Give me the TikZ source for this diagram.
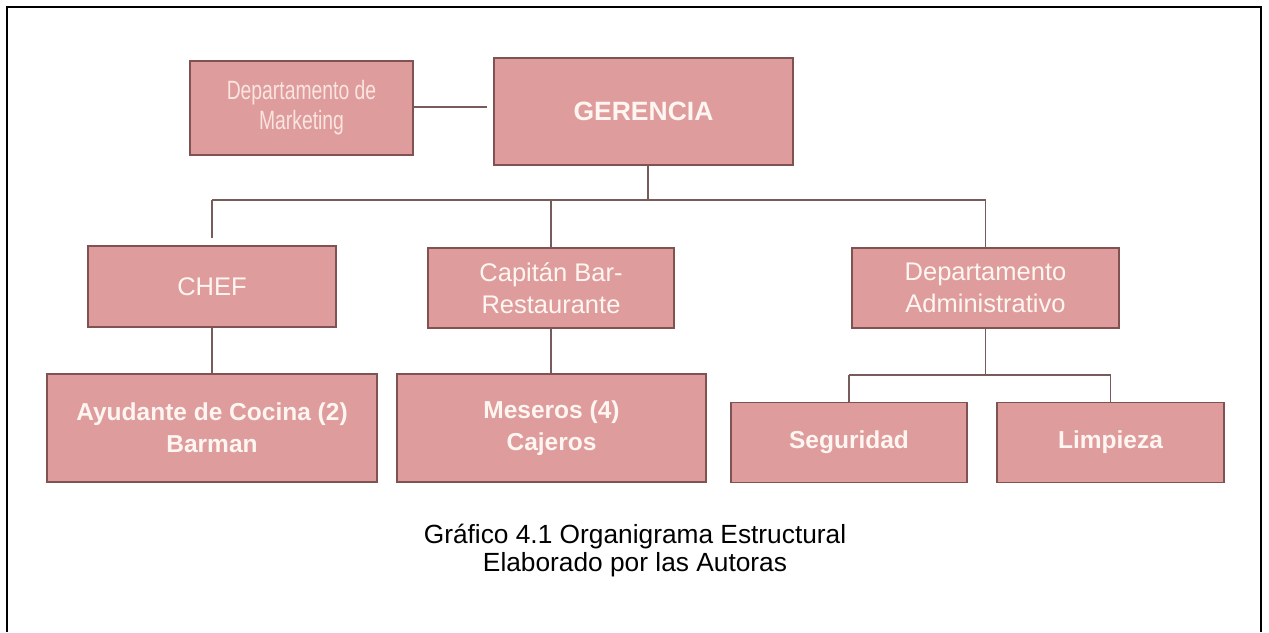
\documentclass[tikz,border=0pt]{standalone}
\usepackage{fontspec}
\usepackage{graphicx}
\setmainfont{Liberation Sans}
\usetikzlibrary{positioning}

\definecolor{boxfill}{RGB}{222,157,156}
\definecolor{boxline}{RGB}{128,82,82}
\definecolor{boxtext}{RGB}{255,246,242}
\definecolor{linkline}{RGB}{120,92,92}

\tikzset{
  orgbox/.style={draw=boxline, line width=1.4pt, fill=boxfill, text=boxtext,
    align=center, inner sep=0pt, font=\fontsize{25.5}{32}\selectfont},
  orgbold/.style={orgbox, font=\fontsize{24.5}{32}\selectfont\bfseries},
  link/.style={draw=linkline, line width=1.4pt}
}

\begin{document}
\begin{tikzpicture}[x=1pt, y=-1pt]
    \useasboundingbox (0,0) rectangle (1269,632);
    \draw[line width=2.6pt] (7,632) -- (7,7) -- (1261,7) -- (1261,632);

    \node[orgbox, minimum width=223pt, minimum height=94pt, text={rgb,255:red,250;green,228;blue,224}] (mkt) at (301.5,108)
        {\fontsize{26.5}{30}\selectfont\scalebox{0.73}[1]{\begin{tabular}{@{}c@{}}Departamento de\\Marketing\end{tabular}}};
    \node[orgbold, minimum width=299pt, minimum height=107pt, font=\fontsize{26.5}{32}\selectfont\bfseries] (ger) at (643.5,111.5) {GERENCIA};
    \node[orgbox, minimum width=248pt, minimum height=81pt] (chef) at (212,286.5) {CHEF};
    \node[orgbox, minimum width=246pt, minimum height=80pt] (cap) at (551,288) {Capitán Bar-\\Restaurante};
    \node[orgbox, minimum width=267pt, minimum height=80pt] (adm) at (985.5,288) {Departamento\\Administrativo};
    \node[orgbold, minimum width=330pt, minimum height=108pt] (ayu) at (212,428) {Ayudante de Cocina (2)\\Barman};
    \node[orgbold, minimum width=309pt, minimum height=108pt] (mes) at (551.5,428) {Meseros (4)\\Cajeros};
    \node[orgbold, minimum width=236pt, minimum height=80pt] (seg) at (849,442.5) {Seguridad};
    \node[orgbold, minimum width=227pt, minimum height=80pt] (lim) at (1110.5,442.5) {Limpieza};

    \coordinate (bus) at (648,200);
    \coordinate (subbus) at (985.5,375);

    \draw[link, shorten >=6pt] (mkt.east |- 0,107) -- (ger.west |- 0,107);
    \draw[link] (ger.south -| bus) -- (bus);
    \draw[link] (chef.north |- bus) -- (adm.north |- bus);
    \draw[link, shorten >=7pt] (chef.north |- bus) -- (chef.north);
    \draw[link] (cap.north |- bus) -- (cap.north);
    \draw[link] (adm.north |- bus) -- (adm.north);
    \draw[link] (chef.south) -- (ayu.north -| chef.south);
    \draw[link] (cap.south) -- (mes.north -| cap.south);
    \draw[link] (adm.south) -- (subbus);
    \draw[link] (seg.north |- subbus) -- (lim.north |- subbus);
    \draw[link] (seg.north |- subbus) -- (seg.north);
    \draw[link] (lim.north |- subbus) -- (lim.north);

    \node[align=center, font=\fontsize{26.3}{28}\selectfont, anchor=north] (cap1) at (635,521)
        {Gráfico 4.1 Organigrama Estructural\\Elaborado por las Autoras};
\end{tikzpicture}
\end{document}
